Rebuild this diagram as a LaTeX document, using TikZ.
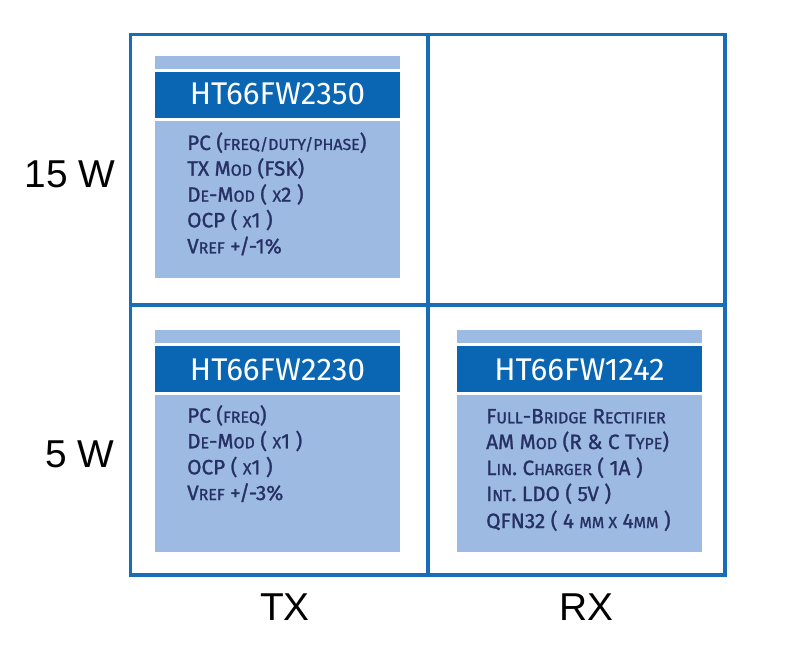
\documentclass[tikz,border=0pt]{standalone}
\usepackage{fontspec}
\setmainfont{Liberation Sans}
\newfontfamily\boxfont{Fira Sans}[FakeBold=1.2]
\newfontfamily\headfont{Fira Sans}
\definecolor{frameblue}{RGB}{24,108,184}
\definecolor{headblue}{RGB}{10,102,178}
\definecolor{lightblue}{RGB}{157,187,226}
\definecolor{navy}{RGB}{38,48,100}
\newcommand{\smc}[1]{{\fontsize{16}{16}\selectfont #1}}
\tikzset{
  frame/.style={draw=frameblue, line width=3.3bp},
  strip/.style={fill=lightblue, draw=none},
  head/.style={fill=headblue, draw=none},
  headtxt/.style={text=white, font=\headfont\fontsize{31.5}{31.5}\selectfont, anchor=base, inner sep=0},
  bodytxt/.style={text=navy, font=\boxfont\fontsize{20.8}{20.8}\selectfont, anchor=base west, inner sep=0},
  axis/.style={text=black, font=\fontsize{39}{39}\selectfont, anchor=base, inner sep=0}
}
\begin{document}
\begin{tikzpicture}[x=1bp,y=-1bp]
\useasboundingbox (0,0) rectangle (792,650);
% grid
\coordinate (tl) at (130.5,34.5);
\coordinate (br) at (725,575);
\coordinate (mt) at (428,34.5);
\coordinate (mb) at (428,575);
\coordinate (ml) at (130.5,305);
\coordinate (mr) at (725,305);
\draw[frame] (tl) rectangle (br);
\draw[frame] (mt) -- (mb);
\draw[frame] (ml) -- (mr);
% box 1
\fill[strip] (155,56) rectangle (400,69.5);
\fill[head] (155,72) rectangle (400,118.3);
\fill[strip] (155,120.7) rectangle (400,278);
\node[headtxt] (h1) at (277.5,105) {HT66FW2350};
\node[bodytxt] (a1) at (187,150) {PC (\smc{FREQ/DUTY/PHASE})};
\node[bodytxt] (a2) at (187,175.7) {TX M\smc{OD} (FSK)};
\node[bodytxt] (a3) at (187,201.7) {D\smc{E}-M\smc{OD} ( \smc{X}2 )};
\node[bodytxt] (a4) at (187,227.3) {OCP ( \smc{X}1 )};
\node[bodytxt] (a5) at (187,253.3) {V\smc{REF} +/-1\%};
% box 2
\fill[strip] (155,330) rectangle (400,343);
\fill[head] (155,346) rectangle (400,392);
\fill[strip] (155,395) rectangle (400,552);
\node[headtxt] (h2) at (277.5,380) {HT66FW2230};
\node[bodytxt] (b1) at (187,422.7) {PC (\smc{FREQ})};
\node[bodytxt] (b2) at (187,448.3) {D\smc{E}-M\smc{OD} ( \smc{X}1 )};
\node[bodytxt] (b3) at (187,474.3) {OCP ( \smc{X}1 )};
\node[bodytxt] (b4) at (187,500) {V\smc{REF} +/-3\%};
% box 3
\fill[strip] (457,330) rectangle (702,343);
\fill[head] (457,346) rectangle (702,392);
\fill[strip] (457,395) rectangle (702,552);
\node[headtxt] (h3) at (579.5,380) {HT66FW1242};
\node[bodytxt] (c1) at (486,423.3) {F\smc{ULL}-B\smc{RIDGE} R\smc{ECTIFIER}};
\node[bodytxt] (c2) at (486,449) {AM M\smc{OD} (R \& C T\smc{YPE})};
\node[bodytxt] (c3) at (486,475) {L\smc{IN}. C\smc{HARGER} ( 1A )};
\node[bodytxt] (c4) at (486,501) {I\smc{NT}. LDO ( 5V )};
\node[bodytxt] (c5) at (486,528) {QFN32 ( 4 \smc{MM X} 4\smc{MM} )};
% axis labels
\node[axis] (w15) at (70,187) {15 W};
\node[axis] (w5) at (80,467) {5 W};
\node[axis] (tx) at (285,620) {TX};
\node[axis] (rx) at (586,620) {RX};
\end{tikzpicture}
\end{document}
